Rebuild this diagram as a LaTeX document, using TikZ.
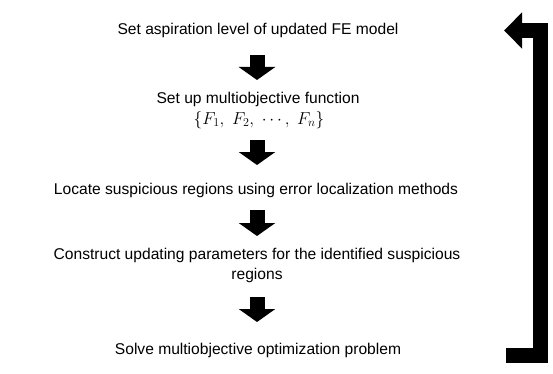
\documentclass[tikz,border=0pt]{standalone}
\usepackage{fontspec}
\setmainfont{Liberation Sans}
\usetikzlibrary{arrows.meta}
\tikzset{
  lbl/.style={inner sep=0pt, font=\fontsize{15.6}{20}\selectfont, align=center},
  blockarrow/.style={draw=black, line width=15pt, -{Triangle[width=36pt,length=13pt]}},
  feedback/.style={draw=black, line width=15.5pt, line join=miter, -{Triangle[width=35pt,length=18pt]}}
}
\begin{document}
\begin{tikzpicture}[x=1pt,y=-1pt]
\useasboundingbox (0,0) rectangle (553,374);
\node[lbl] (t1) at (258,30) {Set aspiration level of updated FE model};
\node[lbl] (t2) at (258,99) {Set up multiobjective function};
\node[lbl, font=\fontsize{17}{20}\selectfont] (t2b) at (259,120) {$\{F_1,\; F_2,\; \cdots,\; F_n\}$};
\node[lbl] (t3) at (256,190) {Locate suspicious regions using error localization methods};
\node[lbl] (t4) at (257,265) {Construct updating parameters for the identified suspicious\\regions};
\node[lbl] (t5) at (258,350) {Solve multiobjective optimization problem};
\coordinate (a1s) at (257,55); \coordinate (a1e) at (257,80);
\coordinate (a2s) at (257,140); \coordinate (a2e) at (257,165);
\coordinate (a3s) at (257,210); \coordinate (a3e) at (257,236);
\coordinate (a4s) at (257,297); \coordinate (a4e) at (257,322);
\draw[blockarrow] (a1s) -- (a1e);
\draw[blockarrow] (a2s) -- (a2e);
\draw[blockarrow] (a3s) -- (a3e);
\draw[blockarrow] (a4s) -- (a4e);
\coordinate (fb1) at (506,355.5);
\coordinate (fb2) at (540.5,355.5);
\coordinate (fb3) at (540.5,30.5);
\coordinate (fb4) at (504,30.5);
\draw[feedback] (fb1) -- (fb2) -- (fb3) -- (fb4);
\end{tikzpicture}
\end{document}
